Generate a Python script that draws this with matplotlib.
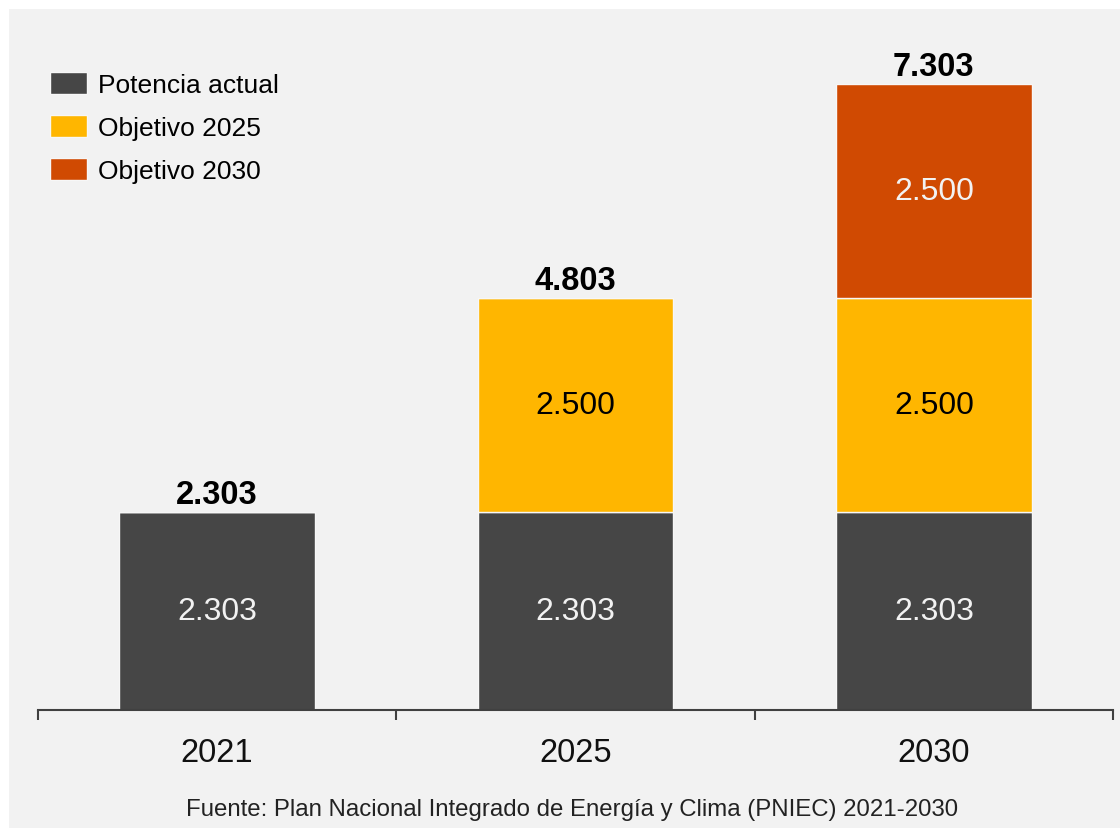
import matplotlib.pyplot as plt
import numpy as np
from matplotlib.patches import Rectangle

# Potencia instalada y objetivos (MW)
years = ['2021', '2025', '2030']
actual = [2303, 2303, 2303]
obj_2025 = [0, 2500, 2500]
obj_2030 = [0, 0, 2500]
series_names = ['Potencia actual', 'Objetivo 2025', 'Objetivo 2030']
source = 'Fuente: Plan Nacional Integrado de Energía y Clima (PNIEC) 2021-2030'

colors = ['#464646', '#FFB600', '#D04A02']
text_colors = ['#f2f2f2', '#000000', '#f2f2f2']
bg = '#f2f2f2'

plt.rcParams['font.family'] = ['Liberation Sans', 'DejaVu Sans']

fig = plt.figure(figsize=(11.2, 8.29), dpi=100, facecolor='white')
fig.patches.append(Rectangle((9 / 1120, 0), 1, 1 - 10 / 829, transform=fig.transFigure,
                             facecolor=bg, edgecolor='none', zorder=-10))
ax = fig.add_axes([38 / 1120, 118.5 / 829, 1075 / 1120, 685 / 829])
ax.set_facecolor('none')

x = np.arange(len(years))
width = 0.546
bottom = np.zeros(len(years))
for vals, col, tcol, name in zip([actual, obj_2025, obj_2030], colors, text_colors, series_names):
    vals = np.array(vals, dtype=float)
    ax.bar(x, vals, width, bottom=bottom, color=col, edgecolor='#f7f7f7', linewidth=1,
           label=name)
    for xi, v, b in zip(x, vals, bottom):
        if v > 0:
            ax.text(xi, b + v / 2, f'{v:,.0f}'.replace(',', '.'), ha='center', va='center',
                    fontsize=23, color=tcol)
    bottom += vals

# totales encima de cada barra
for xi, tot in zip(x, bottom):
    ax.text(xi, tot + 30, f'{tot:,.0f}'.replace(',', '.'), ha='center', va='bottom',
            fontsize=23.5, fontweight='bold', color='#000000')

ax.set_xlim(-0.5, 2.5)
ax.set_ylim(0, 8000)
ax.set_yticks([])
for s in ['top', 'right', 'left']:
    ax.spines[s].set_visible(False)
ax.spines['bottom'].set_color('#404040')
ax.spines['bottom'].set_linewidth(1.5)

ax.set_xticks(x)
ax.set_xticklabels(years, fontsize=23.5, color='#111111')
ax.tick_params(axis='x', which='major', length=0, pad=20)
ax.set_xticks([-0.5, 0.5, 1.5, 2.5], minor=True)
ax.tick_params(axis='x', which='minor', length=7.5, width=1.5, color='#404040', direction='out')

fig.legend(loc='upper left', bbox_to_anchor=(50 / 1120, 1 - 73 / 829), frameon=False,
           fontsize=19, handlelength=1.4, handleheight=0.91, handletextpad=0.42,
           labelspacing=0.67, borderpad=0, borderaxespad=0)

fig.text(572 / 1120, 1 - 810 / 829, source, ha='center', va='center', fontsize=17.3,
         color='#222222')

fig.savefig('out.png', dpi=100, facecolor=fig.get_facecolor())
